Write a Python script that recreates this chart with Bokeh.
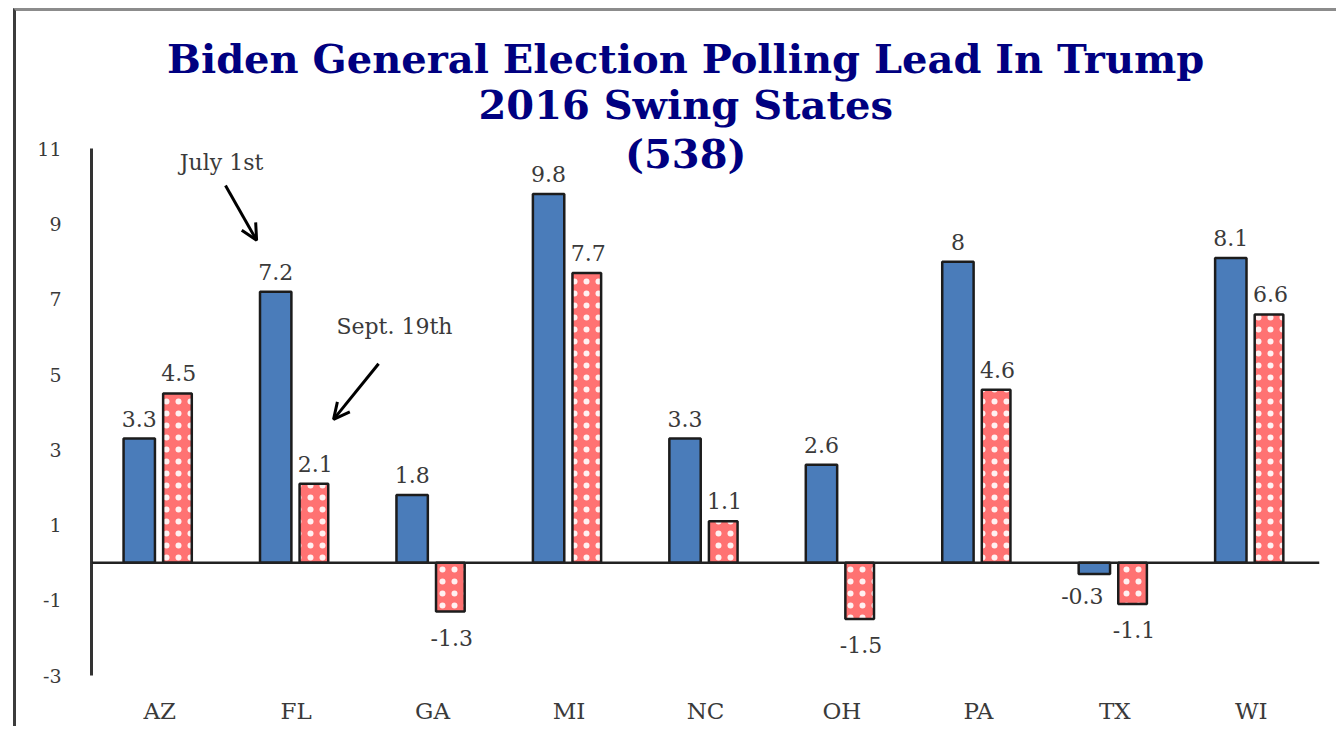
from bokeh.plotting import figure
from bokeh.models import (ColumnDataSource, FactorRange, Range1d, Span, Label,
                          Arrow, OpenHead, FixedTicker)
from bokeh.transform import dodge
from bokeh.core.properties import value
from bokeh.embed import file_html
from bokeh.resources import INLINE

# ---- data ----
states = ["AZ", "FL", "GA", "MI", "NC", "OH", "PA", "TX", "WI"]
july_1st = [3.3, 7.2, 1.8, 9.8, 3.3, 2.6, 8.0, -0.3, 8.1]
sept_19th = [4.5, 2.1, -1.3, 7.7, 1.1, -1.5, 4.6, -1.1, 6.6]
y_ticks = [-3, -1, 1, 3, 5, 7, 9, 11]
title_lines = ["Biden General Election Polling Lead In Trump",
               "2016 Swing States", "(538)"]
note_july = "July 1st"
note_sept = "Sept. 19th"

FONT = "DejaVu Serif"
BLUE = "#4a7cba"
PINK = "#ff7272"
EDGE = "#1c1c1c"
TXT = "#3a3a3a"
NAVY = "#000080"


def fmt(v):
    return f"{v:g}"


src = ColumnDataSource(dict(
    states=states,
    july=july_1st,
    sept=sept_19th,
    july_lbl=[fmt(v) for v in july_1st],
    sept_lbl=[fmt(v) for v in sept_19th],
    july_off=[-12 if v >= 0 else 14 for v in july_1st],
    sept_off=[-12 if v >= 0 else 18 for v in sept_19th],
    july_xoff=[0 if v >= 0 else -12 for v in july_1st],
    sept_xoff=[0 for v in sept_19th],
    july_base=["bottom" if v >= 0 else "top" for v in july_1st],
    sept_base=["bottom" if v >= 0 else "top" for v in sept_19th],
))

p = figure(frame_width=1228, frame_height=662, output_backend="svg",
           toolbar_location=None,
           x_range=FactorRange(*states, range_padding=0, factor_padding=0),
           y_range=Range1d(-3, 14.6),
           min_border_left=75, min_border_right=17, min_border_top=2,
           min_border_bottom=0)
p.margin = (8, 0, 0, 13)
p.background_fill_color = "white"
p.border_fill_color = "white"
p.outline_line_color = None
p.grid.visible = False
p.styles = {"border-left": "3px solid #3c3c3c", "border-top": "3px solid #8c8c8c"}

# y axis
p.yaxis.ticker = FixedTicker(ticks=y_ticks)
p.yaxis.major_label_overrides = {t: str(t) for t in y_ticks}
p.yaxis.bounds = (-3, 11)
p.yaxis.axis_line_color = "#333333"
p.yaxis.axis_line_width = 3
p.yaxis.major_tick_line_color = None
p.yaxis.minor_tick_line_color = None
p.yaxis.major_label_standoff = 24
p.yaxis.major_label_text_font = FONT
p.yaxis.major_label_text_font_size = "19px"
p.yaxis.major_label_text_color = TXT

# x axis
p.xaxis.axis_line_color = None
p.xaxis.major_tick_line_color = None
p.xaxis.major_label_standoff = 16
p.xaxis.major_label_text_font = FONT
p.xaxis.major_label_text_font_size = "23px"
p.xaxis.major_label_text_color = TXT

# zero line
p.add_layout(Span(location=0, dimension="width", line_color="#222222", line_width=2.5))

# bars
p.vbar(x=dodge("states", -0.15, range=p.x_range), top="july", bottom=0, width=0.23,
       source=src, fill_color=BLUE, line_color=EDGE, line_width=2.5)
p.vbar(x=dodge("states", 0.13, range=p.x_range), top="sept", bottom=0, width=0.21,
       source=src, fill_color=PINK, line_color=EDGE, line_width=2.5,
       hatch_pattern="dot", hatch_color="white", hatch_scale=12, hatch_weight=1,
       hatch_alpha=0.9)

# value labels
for col, off in (("july", -0.15), ("sept", 0.14)):
    p.text(x=dodge("states", off, range=p.x_range), y=col, text=f"{col}_lbl",
           x_offset=f"{col}_xoff", y_offset=f"{col}_off",
           text_baseline=f"{col}_base", source=src,
           text_align="center", text_font=value(FONT), text_font_size="22px",
           text_color=TXT)

# title
for ty, line in zip([13.41, 12.17, 10.87], title_lines):
    p.add_layout(Label(x=4.355, y=ty, text=line, text_align="center",
                       text_baseline="middle", text_font=FONT,
                       text_font_size="40px", text_font_style="bold",
                       text_color=NAVY))

# notes and arrows
p.add_layout(Label(x=0.953, y=10.63, text=note_july, text_align="center",
                   text_baseline="middle", text_font=FONT, text_font_size="22px",
                   text_color=TXT))
p.add_layout(Label(x=2.22, y=6.27, text=note_sept, text_align="center",
                   text_baseline="middle", text_font=FONT, text_font_size="22px",
                   text_color=TXT))
p.add_layout(Arrow(x_start=0.982, y_start=10.03, x_end=1.21, y_end=8.57,
                   line_width=3, line_color="black",
                   end=OpenHead(size=16, line_width=3, line_color="black")))
p.add_layout(Arrow(x_start=2.104, y_start=5.29, x_end=1.774, y_end=3.81,
                   line_width=3, line_color="black",
                   end=OpenHead(size=16, line_width=3, line_color="black")))

open("out.html", "w").write(file_html(p, INLINE))
